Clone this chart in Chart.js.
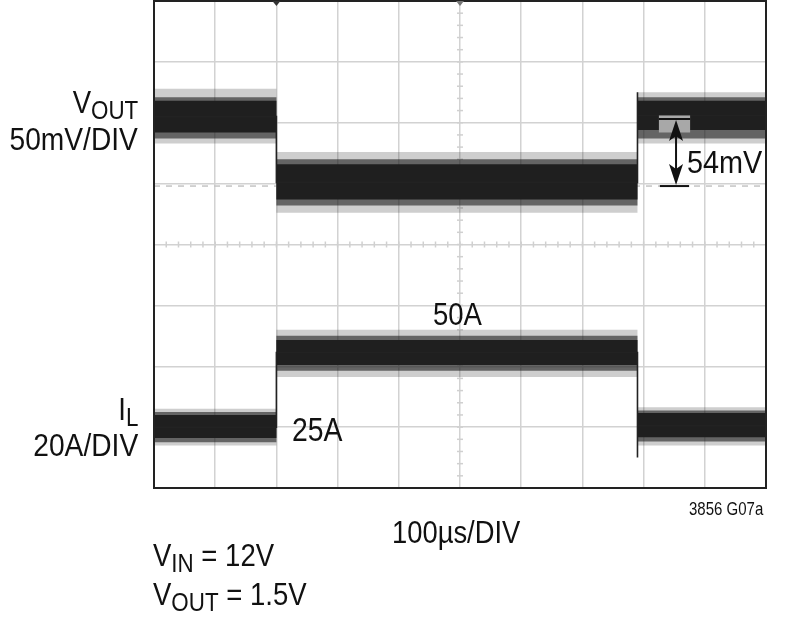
<!DOCTYPE html>
<html>
<head>
<meta charset="utf-8">
<script src="https://cdn.jsdelivr.net/npm/chart.js@4.4.1/dist/chart.umd.min.js"></script>
<style>
  html, body { margin: 0; padding: 0; background: #fff; }
  #wrap { position: relative; width: 800px; height: 625px; overflow: hidden; }
  #c { position: absolute; left: 0; top: 0; }
  .lbl { position: absolute; font-family: "Liberation Sans", Arial, sans-serif;
         font-size: 32px; line-height: 32px; color: #111; white-space: nowrap;
         transform: scaleX(0.86); transform-origin: left top; }
  .r { text-align: right; transform-origin: right top; }
  .sub { font-size: 26px; vertical-align: -6px; }
</style>
</head>
<body>
<div id="wrap">
  <canvas id="c" width="800" height="625"></canvas>
  <div class="lbl r" style="right:662px; top:86px;">V<span class="sub">OUT</span></div>
  <div class="lbl r" style="right:662px; top:123px; transform:scaleX(0.88);">50mV/DIV</div>
  <div class="lbl r" style="right:662px; top:393px;">I<span class="sub">L</span></div>
  <div class="lbl r" style="right:662px; top:429px; transform:scaleX(0.88);">20A/DIV</div>
  <div class="lbl" style="left:292px; top:414px; font-size:33px;">25A</div>
  <div class="lbl" style="left:433px; top:298px;">50A</div>
  <div class="lbl" style="left:687px; top:146px; transform:scaleX(0.9);">54mV</div>
  <div class="lbl" style="left:689px; top:499px; font-size:19px; line-height:19px; transform:scaleX(0.79);">3856 G07a</div>
  <div class="lbl" style="left:392px; top:516px; transform:scaleX(0.855);">100µs/DIV</div>
  <div class="lbl" style="left:153px; top:539px;">V<span class="sub">IN</span> = 12V</div>
  <div class="lbl" style="left:153px; top:578px;">V<span class="sub">OUT</span> = 1.5V</div>
</div>
<script>
// ---- time segments (µs), 100 µs/DIV ----
const segmentStartUs = [0, 200, 790];
const segmentEndUs   = [200, 790, 1000];

// ---- VOUT deviation from 1.5V (mV), 50 mV/DIV ----
const voutSpikeHigh = [25, -27, 22];
const voutSpikeLow  = [-20, -77, -20];
const voutPeakHigh  = [18, -33, 18];
const voutPeakLow   = [-16, -71, -16];
const voutCoreHigh  = [15, -37, 15];
const voutCoreLow   = [-11, -66, -9];
const voutCenter    = [2, -52, 3];
const voutEdgePeak  = [null, 22];

// ---- Inductor current IL (A), 20 A/DIV ----
const ilSpikeHigh = [31, 57, 31.5];
const ilSpikeLow  = [19, 41.5, 19];
const ilPeakHigh  = [30, 55, 30.5];
const ilPeakLow   = [20, 43.5, 20.3];
const ilCoreHigh  = [29, 53.6, 29.6];
const ilCoreLow   = [21.4, 45.4, 21.7];
const ilCenter    = [25, 49.5, 25.4];
const ilEdgePeak  = [null, 15];

// ---- 54mV measurement cursors ----
const cursorTopMv = 0;
const cursorBottomMv = -55;
const cursorTimeUs = 853;
const cursorSpanUs = [825, 876];
const cursorBoxMv = [3, -11];
const triggerMarksUs = [200, 500];

function band(vals) {
  const pts = [];
  vals.forEach((v, i) => { pts.push({x: segmentStartUs[i], y: v}); pts.push({x: segmentEndUs[i], y: v}); });
  return pts;
}
function trace(center, edgePeak) {
  const pts = [];
  center.forEach((v, i) => {
    if (i > 0 && edgePeak[i - 1] !== null) pts.push({x: segmentStartUs[i], y: edgePeak[i - 1]});
    pts.push({x: segmentStartUs[i], y: v});
    pts.push({x: segmentEndUs[i], y: v});
  });
  return pts;
}

const SPIKE = 'rgba(30,30,30,0.22)';
const PEAK = 'rgba(30,30,30,0.6)';
const CORE = '#1f1f1f';
function ds(data, axis, opts) {
  return Object.assign({ data, yAxisID: axis, pointRadius: 0, borderWidth: 0, borderColor: 'transparent', fill: false, tension: 0 }, opts);
}

const datasets = [
  ds(band(voutCoreHigh), 'yV', { fill: '+1', backgroundColor: CORE, order: 1 }),
  ds(band(voutCoreLow), 'yV', { order: 1 }),
  ds(band(ilCoreHigh), 'yI', { fill: '+1', backgroundColor: CORE, order: 1 }),
  ds(band(ilCoreLow), 'yI', { order: 1 }),
  ds(band(voutPeakHigh), 'yV', { fill: '+1', backgroundColor: PEAK, order: 2 }),
  ds(band(voutPeakLow), 'yV', { order: 2 }),
  ds(band(ilPeakHigh), 'yI', { fill: '+1', backgroundColor: PEAK, order: 2 }),
  ds(band(ilPeakLow), 'yI', { order: 2 }),
  ds(band(voutSpikeHigh), 'yV', { fill: '+1', backgroundColor: SPIKE, order: 3 }),
  ds(band(voutSpikeLow), 'yV', { order: 3 }),
  ds(band(ilSpikeHigh), 'yI', { fill: '+1', backgroundColor: SPIKE, order: 3 }),
  ds(band(ilSpikeLow), 'yI', { order: 3 }),
  ds(trace(voutCenter, voutEdgePeak), 'yV', { borderWidth: 1.6, borderColor: '#222', order: 0 }),
  ds(trace(ilCenter, ilEdgePeak), 'yI', { borderWidth: 1.6, borderColor: '#222', order: 0 })
];

const overlay = {
  id: 'overlay',
  beforeDatasetsDraw(chart) {
    const {ctx, chartArea: a, scales} = chart;
    const x = scales.x, yV = scales.yV, yG = scales.yGrid;
    ctx.save();
    ctx.strokeStyle = '#c4c4c4'; ctx.lineWidth = 1.5; ctx.setLineDash([6, 6]);
    const yd = yV.getPixelForValue(cursorBottomMv);
    ctx.beginPath(); ctx.moveTo(a.left, yd); ctx.lineTo(a.right, yd); ctx.stroke();
    ctx.setLineDash([]);
    ctx.strokeStyle = '#d0d0d0'; ctx.lineWidth = 1.5;
    const cy = yG.getPixelForValue(4), cx = x.getPixelForValue(500);
    for (let t = 0; t <= 1000; t += 20) {
      const px = x.getPixelForValue(t);
      ctx.beginPath(); ctx.moveTo(px, cy - 3); ctx.lineTo(px, cy + 3); ctx.stroke();
    }
    for (let d = 0; d <= 8; d += 0.2) {
      const py = yG.getPixelForValue(d);
      ctx.beginPath(); ctx.moveTo(cx - 3, py); ctx.lineTo(cx + 3, py); ctx.stroke();
    }
    ctx.restore();
  },
  afterDatasetsDraw(chart) {
    const {ctx, chartArea: a, scales} = chart;
    const x = scales.x, yV = scales.yV;
    ctx.save();
    const bx0 = x.getPixelForValue(cursorSpanUs[0]), bx1 = x.getPixelForValue(cursorSpanUs[1]);
    const by0 = yV.getPixelForValue(cursorBoxMv[0]), by1 = yV.getPixelForValue(cursorBoxMv[1]);
    ctx.fillStyle = '#a8a8a8';
    ctx.fillRect(bx0, by0, bx1 - bx0, by1 - by0);
    const yt = yV.getPixelForValue(cursorTopMv), yb = yV.getPixelForValue(cursorBottomMv);
    const xc = x.getPixelForValue(cursorTimeUs);
    ctx.strokeStyle = '#111'; ctx.lineWidth = 2;
    ctx.beginPath(); ctx.moveTo(bx0, yt); ctx.lineTo(bx1, yt); ctx.stroke();
    ctx.beginPath(); ctx.moveTo(bx0 + 1, yb); ctx.lineTo(bx1 - 1, yb); ctx.stroke();
    ctx.beginPath(); ctx.moveTo(xc, yt + 4); ctx.lineTo(xc, yb - 4); ctx.stroke();
    ctx.fillStyle = '#111';
    ctx.beginPath(); ctx.moveTo(xc, yt + 1); ctx.lineTo(xc - 7, yt + 22); ctx.lineTo(xc, yt + 17); ctx.lineTo(xc + 7, yt + 22); ctx.closePath(); ctx.fill();
    ctx.beginPath(); ctx.moveTo(xc, yb - 1); ctx.lineTo(xc - 7, yb - 22); ctx.lineTo(xc, yb - 17); ctx.lineTo(xc + 7, yb - 22); ctx.closePath(); ctx.fill();
    ctx.strokeStyle = '#222'; ctx.lineWidth = 2;
    ctx.strokeRect(a.left, a.top, a.right - a.left, a.bottom - a.top);
    triggerMarksUs.forEach((t, i) => {
      const px = x.getPixelForValue(t);
      ctx.fillStyle = i === 0 ? '#333' : '#777';
      ctx.beginPath(); ctx.moveTo(px - 4, a.top); ctx.lineTo(px + 4, a.top); ctx.lineTo(px, a.top + 5); ctx.closePath(); ctx.fill();
    });
    ctx.restore();
  }
};

new Chart(document.getElementById('c'), {
  type: 'line',
  data: { datasets },
  options: {
    responsive: false,
    animation: false,
    devicePixelRatio: 1,
    layout: { padding: { left: 154, right: 34, top: 1, bottom: 137 } },
    plugins: { legend: { display: false }, tooltip: { enabled: false } },
    scales: {
      x: { type: 'linear', min: 0, max: 1000, ticks: { display: false, stepSize: 100 },
           grid: { color: '#d2d2d2', lineWidth: 1.5, drawTicks: false }, border: { display: false } },
      yGrid: { type: 'linear', position: 'left', min: 0, max: 8, ticks: { display: false, stepSize: 1 },
               grid: { color: '#d2d2d2', lineWidth: 1.5, drawTicks: false }, border: { display: false } },
      yV: { type: 'linear', display: false, min: -303, max: 97 },
      yI: { type: 'linear', display: false, min: 5, max: 165 }
    }
  },
  plugins: [overlay]
});
</script>
</body>
</html>
